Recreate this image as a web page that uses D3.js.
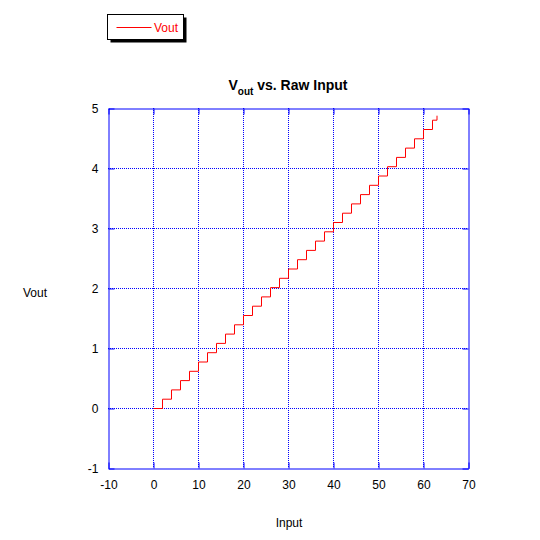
<!DOCTYPE html>
<html>
<head>
<meta charset="utf-8">
<script src="https://cdn.jsdelivr.net/npm/d3@7"></script>
<style>
  html, body { margin: 0; padding: 0; background: #fff; }
  svg { display: block; font-family: "Liberation Sans", Arial, sans-serif; }
</style>
</head>
<body>
<script>
// Data: raw input (step starts) and measured Vout levels
const inputs = [0, 2, 4, 6, 8, 10, 12, 14, 16, 18, 20, 22, 24, 26, 28, 30,
                32, 34, 36, 38, 40, 42, 44, 46, 48, 50, 52, 54, 56, 58, 60, 62, 63];
const vout = [0, 0.155, 0.31, 0.465, 0.62, 0.775, 0.93, 1.085, 1.24, 1.395, 1.55, 1.705,
              1.86, 2.015, 2.17, 2.325, 2.48, 2.635, 2.79, 2.945, 3.10, 3.255, 3.41, 3.565,
              3.72, 3.875, 4.03, 4.185, 4.34, 4.495, 4.65, 4.805, 4.88];
const xTicks = [-10, 0, 10, 20, 30, 40, 50, 60, 70];
const yTicks = [-1, 0, 1, 2, 3, 4, 5];
const seriesName = "Vout";

const W = 540, H = 540;
const svg = d3.select("body").append("svg").attr("width", W).attr("height", H);

const x = d3.scaleLinear().domain([-10, 70]).range([108, 468]);
const y = d3.scaleLinear().domain([-1, 5]).range([468, 108]);

const blue = "rgb(0,0,255)";
const fmt = d => String(d);

// dotted grid (pixel aligned: half-pixel offset only across the line)
const grid = svg.append("g");
grid.append("g").selectAll("line").data(xTicks.slice(1, -1)).join("line")
  .attr("x1", d => x(d) + 0.5).attr("x2", d => x(d) + 0.5)
  .attr("y1", y(5)).attr("y2", y(-1))
  .style("stroke", blue).attr("stroke-width", 1).attr("stroke-dasharray", "1,1");
grid.append("g").selectAll("line").data(yTicks.slice(1, -1)).join("line")
  .attr("y1", d => y(d) + 0.5).attr("y2", d => y(d) + 0.5)
  .attr("x1", x(-10)).attr("x2", x(70))
  .style("stroke", blue).attr("stroke-width", 1).attr("stroke-dasharray", "1,1");

// axes with inward ticks (all four sides)
const g = svg.append("g").attr("transform", "translate(0.5,0.5)");
const tl = 6;
const xb = g.append("g").attr("transform", `translate(0,${y(-1)})`)
  .call(d3.axisBottom(x).tickValues(xTicks).tickSizeInner(-tl).tickSizeOuter(0).tickFormat(fmt));
const xt = g.append("g").attr("transform", `translate(0,${y(5)})`)
  .call(d3.axisTop(x).tickValues(xTicks).tickSizeInner(-tl).tickSizeOuter(0).tickFormat(""));
const yl = g.append("g").attr("transform", `translate(${x(-10)},0)`)
  .call(d3.axisLeft(y).tickValues(yTicks).tickSizeInner(-tl).tickSizeOuter(0).tickFormat(fmt));
const yr = g.append("g").attr("transform", `translate(${x(70)},0)`)
  .call(d3.axisRight(y).tickValues(yTicks).tickSizeInner(-tl).tickSizeOuter(0).tickFormat(""));

[xb, xt, yl, yr].forEach(a => {
  a.attr("color", blue);
  a.selectAll(".domain").style("stroke", blue).attr("stroke-width", 1);
  a.selectAll(".tick line").style("stroke", blue).attr("stroke-width", 1);
  a.selectAll("text").style("fill", "#000").attr("font-size", 12)
    .attr("font-family", "Liberation Sans, Arial, sans-serif");
});
xb.selectAll("text").attr("dy", null).attr("y", 20);
yl.selectAll("text").attr("x", -10).attr("dy", "0.35em");

// step line
const line = d3.line().x(d => x(d[0])).y(d => y(d[1])).curve(d3.curveStepAfter);
g.append("path").datum(inputs.map((v, i) => [v, vout[i]]))
  .attr("d", line).attr("fill", "none").attr("stroke", "#ff0000").attr("stroke-width", 1);

// title
const title = svg.append("text").attr("x", 288).attr("y", 90).attr("text-anchor", "middle")
  .attr("font-size", 14).attr("font-weight", "bold").attr("fill", "#000");
title.append("tspan").text("V");
title.append("tspan").attr("font-size", 10).attr("dy", 5).text("out");
title.append("tspan").attr("dy", -5).text(" vs. Raw Input");

// axis titles
svg.append("text").attr("x", 289).attr("y", 527).attr("text-anchor", "middle")
  .attr("font-size", 12).text("Input");
svg.append("text").attr("x", 35).attr("y", 297).attr("text-anchor", "middle")
  .attr("font-size", 12).text("Vout");

// legend
const lg = svg.append("g").attr("transform", "translate(0.5,0.5)");
lg.append("rect").attr("x", 110).attr("y", 17).attr("width", 76).attr("height", 25).attr("fill", "#000");
lg.append("rect").attr("x", 107).attr("y", 14).attr("width", 76).attr("height", 25)
  .attr("fill", "#fff").attr("stroke", "#000");
lg.append("line").attr("x1", 116).attr("x2", 151).attr("y1", 27).attr("y2", 27).attr("stroke", "#ff0000");
svg.append("text").attr("x", 154).attr("y", 32).attr("font-size", 12).attr("fill", "#ff0000").text(seriesName);
</script>
</body>
</html>
